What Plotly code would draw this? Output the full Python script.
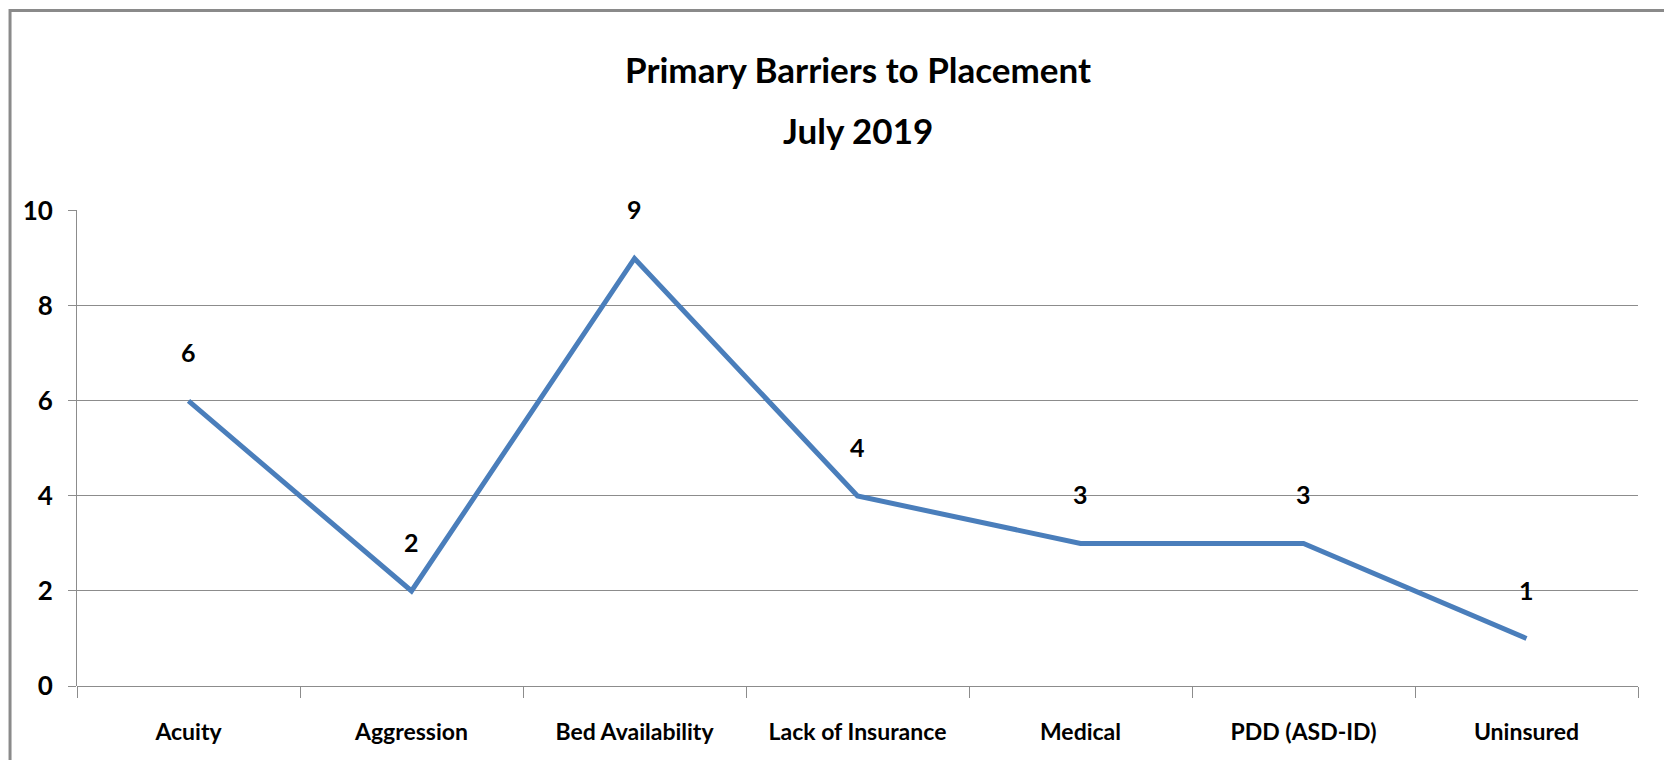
import plotly.graph_objects as go

# Données
categories = ["Acuity", "Aggression", "Bed Availability", "Lack of Insurance",
              "Medical", "PDD (ASD-ID)", "Uninsured"]
valeurs = [6, 2, 9, 4, 3, 3, 1]
y_ticks = [0, 2, 4, 6, 8, 10]

police = "Lato, Open Sans, sans-serif"
bleu = "#4A7EBB"
gris = "#8C8C8C"

fig = go.Figure()

fig.add_trace(go.Scatter(
    x=categories,
    y=valeurs,
    mode="lines",
    line=dict(color=bleu, width=5),
    hoverinfo="x+y",
))

# Étiquettes de données au-dessus des points
for cat, val in zip(categories, valeurs):
    fig.add_annotation(
        x=cat, y=val, text=str(val), showarrow=False,
        yanchor="middle", yshift=49,
        font=dict(family=police, size=25, color="black", weight="bold"),
    )

# Titre sur deux lignes
fig.add_annotation(
    xref="paper", yref="paper", x=0.5, y=1.296, showarrow=False,
    xanchor="center", yanchor="middle",
    text="Primary Barriers to Placement",
    font=dict(family=police, size=35, color="black", weight="bold"),
)
fig.add_annotation(
    xref="paper", yref="paper", x=0.5, y=1.168, showarrow=False,
    xanchor="center", yanchor="middle",
    text="July 2019",
    font=dict(family=police, size=35, color="black", weight="bold"),
)

# Cadre du graphique
fig.add_shape(
    type="rect", xref="paper", yref="paper",
    x0=-0.0429, x1=1.0192, y0=-0.4, y1=1.419,
    line=dict(color="#8A8A8A", width=3),
)

# La page ajoute 8 px de marge autour du graphique
fig.update_layout(
    width=1656,
    height=752,
    margin=dict(l=69, r=26, t=202, b=74),
    paper_bgcolor="white",
    plot_bgcolor="white",
    showlegend=False,
    font=dict(family=police, color="black"),
)

fig.update_xaxes(
    type="category",
    range=[-0.5, len(categories) - 0.5],
    tickson="boundaries",
    ticks="outside",
    ticklen=11,
    tickcolor=gris,
    showline=False,
    showgrid=False,
    tickfont=dict(family=police, size=23, weight="bold"),
    ticklabelstandoff=30,
)

fig.update_yaxes(
    range=[0, 10.02],
    tickvals=y_ticks,
    ticks="outside",
    ticklen=8,
    tickcolor=gris,
    showline=True,
    linecolor=gris,
    linewidth=1,
    showgrid=True,
    gridcolor=gris,
    gridwidth=1,
    zeroline=True,
    zerolinecolor=gris,
    zerolinewidth=1,
    tickfont=dict(family=police, size=26, weight="bold"),
    ticklabelstandoff=10,
)

fig.write_html("out.html")
